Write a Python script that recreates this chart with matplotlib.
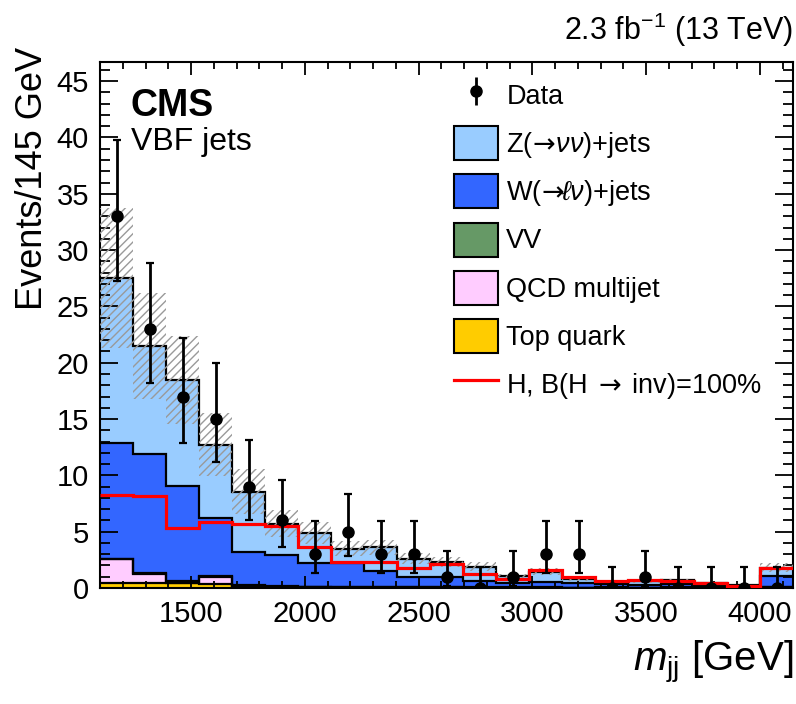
import numpy as np
import matplotlib
matplotlib.use('Agg')
import matplotlib.pyplot as plt
from matplotlib.patches import Patch
from matplotlib.lines import Line2D

plt.rcParams['font.family'] = ['Liberation Sans', 'DejaVu Sans']
plt.rcParams['mathtext.fontset'] = 'custom'
plt.rcParams['mathtext.rm'] = 'Liberation Sans'
plt.rcParams['mathtext.it'] = 'Liberation Sans:italic'
plt.rcParams['mathtext.bf'] = 'Liberation Sans:bold'
plt.rcParams['mathtext.sf'] = 'DejaVu Sans'
plt.rcParams['hatch.color'] = '#9a9a9a'
plt.rcParams['hatch.linewidth'] = 1.0

# binning: 145 GeV bins from 1100 GeV
edges = np.arange(1100, 4146, 145)

# observed events per bin
data = [33, 23, 17, 15, 9, 6, 3, 5, 3, 3, 1, 0, 1, 3, 3, 0, 1, 0, 0, 0, 0]
# Garwood 68% interval (down / up)
data_lo = [5.72, 4.77, 4.09, 3.84, 2.94, 2.38, 1.63, 2.16, 1.63, 1.63, 0.83, 0.0,
           0.83, 1.63, 1.63, 0.0, 0.83, 0.0, 0.0, 0.0, 0.0]
data_hi = [6.81, 5.87, 5.21, 4.97, 4.11, 3.58, 2.92, 3.38, 2.92, 2.92, 2.30, 1.84,
           2.30, 2.92, 2.92, 1.84, 2.30, 1.84, 1.84, 1.84, 1.84]

# backgrounds (stack order bottom -> top)
top_quark = [0.40, 0.40, 0.40, 0.35, 0.10, 0.05, 0.05, 0.03, 0.03, 0.02, 0.02,
             0.02, 0.01, 0.01, 0.01, 0.01, 0.01, 0.01, 0.01, 0.01, 0.03]
qcd = [2.15, 0.85, 0.05, 0.66, 0.10, 0.05, 0.02, 0.02, 0.02, 0.03, 0.04,
       0.0, 0.02, 0.01, 0.01, 0.02, 0.01, 0.02, 0.01, 0.01, 0.03]
vv = [0.05, 0.05, 0.20, 0.05, 0.10, 0.10, 0.05, 0.05, 0.05, 0.05, 0.04,
      0.03, 0.02, 0.03, 0.02, 0.02, 0.02, 0.02, 0.01, 0.01, 0.05]
w_jets = [10.3, 10.6, 8.45, 5.14, 2.9, 2.7, 2.08, 2.1, 1.4, 0.9, 0.9,
          0.58, 0.40, 0.45, 0.36, 0.30, 0.26, 0.30, 0.17, 0.12, 0.95]
z_jets = [14.6, 9.6, 9.4, 6.5, 5.35, 2.8, 2.7, 1.3, 2.1, 1.6, 1.3,
          1.25, 0.61, 0.95, 0.40, 0.20, 0.30, 0.35, 0.20, 0.10, 0.74]
# absolute uncertainty on total background
bkg_unc = [6.2, 4.7, 3.9, 2.8, 2.0, 1.2, 1.0, 0.7, 0.7, 0.5, 0.45,
           0.4, 0.22, 0.3, 0.16, 0.11, 0.12, 0.14, 0.08, 0.05, 0.4]

# signal, B(H->inv)=100%
signal = [8.3, 8.2, 5.3, 5.9, 5.7, 5.5, 3.6, 2.3, 2.3, 1.75, 2.1,
          1.25, 0.77, 1.6, 1.0, 0.62, 0.7, 0.62, 0.41, 0.2, 1.8]

labels = ['Top quark', 'QCD multijet', 'VV',
          r'W($\!\mathsf{\rightarrow}\!\!\ell\nu$)+jets',
          r'Z($\!\mathsf{\rightarrow}\!\nu\nu$)+jets']
colors = ['#ffcc00', '#ffccff', '#669966', '#3366ff', '#99ccff']

fig = plt.figure(figsize=(7.96, 7.04), dpi=100)
ax = fig.add_axes([100/796, 116/704, 693/796, 526/704])

stack = np.cumsum(np.vstack([top_quark, qcd, vv, w_jets, z_jets]), axis=0)
for i in reversed(range(len(stack))):
    ax.stairs(stack[i], edges, fill=True, color=colors[i], zorder=1)
    ax.stairs(stack[i], edges, color='black', lw=1.6, baseline=None, zorder=2)

total = stack[-1]
unc = np.array(bkg_unc)
ax.stairs(total + unc, edges, baseline=total - unc, fill=True,
          facecolor='none', edgecolor='#9a9a9a', hatch='////', lw=0, zorder=3)

ax.stairs(signal, edges, color='#ff0000', lw=2.3, baseline=None, zorder=4)

centers = 0.5 * (edges[:-1] + edges[1:])
ax.errorbar(centers, data, yerr=[data_lo, data_hi], fmt='o', color='black',
            ms=8, elinewidth=2, capsize=3, capthick=1.6, zorder=5)
# legend entry for data: marker + vertical bar, no caps
eb_leg = ax.errorbar([np.nan], [np.nan], yerr=[[1], [1]], fmt='o', color='black',
                     ms=8, elinewidth=2, capsize=0)

ax.set_xlim(edges[0], edges[-1])
ax.set_ylim(0, 46.7)
ax.set_xticks(np.arange(1500, 4001, 500))
ax.set_xticks(np.arange(1200, 4101, 100), minor=True)
ax.set_yticks(np.arange(0, 46, 5))
ax.set_yticks(np.arange(0, 47, 1), minor=True)
ax.tick_params(which='both', direction='in', top=True, right=True, width=1.3,
               labelsize=21)
ax.tick_params(axis='x', which='major', length=9, pad=9)
ax.tick_params(axis='x', which='minor', length=5)
ax.tick_params(axis='y', which='major', length=13, pad=8)
ax.tick_params(axis='y', which='minor', length=7)
for s in ax.spines.values():
    s.set_linewidth(1.5)

fig.text(33/796, 1 - 47/704, 'Events/145 GeV', rotation=90, ha='center',
         va='top', fontsize=26)
fig.text(793/796, 1 - 662/704, r'$m_{\mathrm{jj}}$ [GeV]', ha='right',
         va='center', fontsize=29)
fig.text(793/796, 1 - 30/704, r'2.3 fb$^{-1}$ (13 TeV)', ha='right',
         va='center', fontsize=22)
fig.text(131/796, 1 - 88/704, 'CMS', fontweight='bold', ha='left', va='top',
         fontsize=27)
fig.text(131/796, 1 - 127/704, 'VBF jets', ha='left', va='top', fontsize=23)

handles = [eb_leg]
names = ['Data']
for i in reversed(range(len(labels))):
    handles.append(Patch(facecolor=colors[i], edgecolor='black', lw=1.5))
    names.append(labels[i])
handles.append(Line2D([], [], color='#ff0000', lw=2.3))
names.append(r'H, B(H$\;\mathsf{\rightarrow}\;$inv)=100%')
ax.legend(handles, names, loc='upper left', bbox_to_anchor=(454/796, 1 - 78/704),
          bbox_transform=fig.transFigure, frameon=False, fontsize=19.5,
          handlelength=1.63, handleheight=1.56, labelspacing=0.52,
          handletextpad=0.3, borderpad=0, borderaxespad=0)

fig.savefig('out.png', dpi=100)
